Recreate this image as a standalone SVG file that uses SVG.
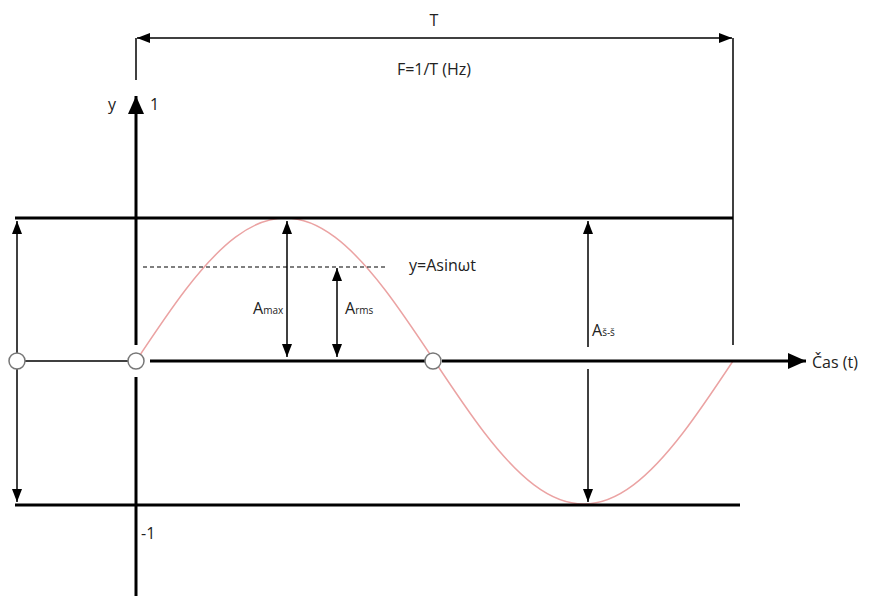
<svg xmlns="http://www.w3.org/2000/svg" width="876" height="596" viewBox="0 0 876 596">
<style>
.thick{stroke:#000;stroke-width:3;fill:none}
.thin{stroke:#000;stroke-width:1.5;fill:none}
.dash{stroke:#000;stroke-width:1.2;stroke-dasharray:4,3;fill:none}
.sine{stroke:#eba3a3;stroke-width:1.5;fill:none}
.pt{fill:#fff;stroke:#777;stroke-width:1.5}
text{font-family:"Open Sans","Liberation Sans",sans-serif;font-size:16px;fill:#222}
.sub{font-size:10px}
</style>
<defs>
<marker id="ah" viewBox="0 0 10 10" refX="10" refY="5" markerWidth="13" markerHeight="10" orient="auto-start-reverse" markerUnits="userSpaceOnUse" preserveAspectRatio="none">
<path d="M0,0 L10,5 L0,10 z" fill="#000"/>
</marker>
<marker id="big" viewBox="0 0 10 10" refX="10" refY="5" markerWidth="18" markerHeight="16" orient="auto" markerUnits="userSpaceOnUse" preserveAspectRatio="none">
<path d="M0,0 L10,5 L0,10 z" fill="#000"/>
</marker>
</defs>
<rect width="876" height="596" fill="#fff"/>
<g id="sine-wave">
<path class="sine" d="M136,361 C152.58,336.04 169.17,311.11 185.75,289.5 C202.33,267.89 218.92,249.64 235.5,237.16 C252.08,224.68 268.67,218 285.25,218 C301.83,218 318.42,224.68 335,237.16 C351.58,249.64 368.17,267.89 384.75,289.5 C401.33,311.11 417.92,336.04 434.5,361 C451.08,385.96 467.67,410.89 484.25,432.5 C500.83,454.11 517.42,472.36 534,484.84 C550.58,497.32 567.17,504 583.75,504 C600.33,504 616.92,497.32 633.5,484.84 C650.08,472.36 666.67,454.11 683.25,432.5 C699.83,410.89 716.42,385.96 733,361"/>
</g>
<g id="connectors">
<line class="thick" x1="15" y1="218" x2="733" y2="218"/>
<line class="thick" x1="15" y1="505" x2="740" y2="505"/>
<line class="thick" x1="136" y1="345" x2="136" y2="96" marker-end="url(#big)"/>
<line class="thick" x1="136" y1="377" x2="136" y2="596"/>
<line class="thick" x1="150" y1="361" x2="425" y2="361"/>
<line class="thick" x1="442" y1="361" x2="806" y2="361" marker-end="url(#big)"/>
<line class="thin" x1="25" y1="361" x2="128" y2="361"/>
<line class="thin" x1="136" y1="38" x2="136" y2="80"/>
<line class="thin" x1="733" y1="38" x2="733" y2="345"/>
<line class="thin" x1="137" y1="38" x2="732" y2="38" marker-start="url(#ah)" marker-end="url(#ah)"/>
<line class="thin" x1="17" y1="221" x2="17" y2="502" marker-start="url(#ah)" marker-end="url(#ah)"/>
<line class="thin" x1="287" y1="221" x2="287" y2="357" marker-start="url(#ah)" marker-end="url(#ah)"/>
<line class="thin" x1="337" y1="268" x2="337" y2="357" marker-start="url(#ah)" marker-end="url(#ah)"/>
<line class="thin" x1="588" y1="240" x2="588" y2="347"/>
<line class="thin" x1="588" y1="369" x2="588" y2="502" marker-end="url(#ah)"/>
<line class="thin" x1="588" y1="240" x2="588" y2="221" marker-end="url(#ah)"/>
<line class="dash" x1="143" y1="267" x2="386" y2="267"/>
</g>
<g id="points">
<circle class="pt" cx="17" cy="361" r="8"/>
<circle class="pt" cx="136" cy="361" r="8"/>
<circle class="pt" cx="433" cy="361" r="8"/>
</g>
<g id="labels">
<text x="434" y="26" text-anchor="middle">T</text>
<text x="434" y="75" text-anchor="middle">F=1/T (Hz)</text>
<text x="108" y="110">y</text>
<text x="150" y="110">1</text>
<text x="141" y="539">-1</text>
<text x="409" y="271">y=Asinωt</text>
<text x="253" y="314">A<tspan class="sub">max</tspan></text>
<text x="345" y="314">A<tspan class="sub">rms</tspan></text>
<text x="592" y="336">A<tspan class="sub">š-š</tspan></text>
<text x="812" y="368">Čas (t)</text>
</g>
</svg>
